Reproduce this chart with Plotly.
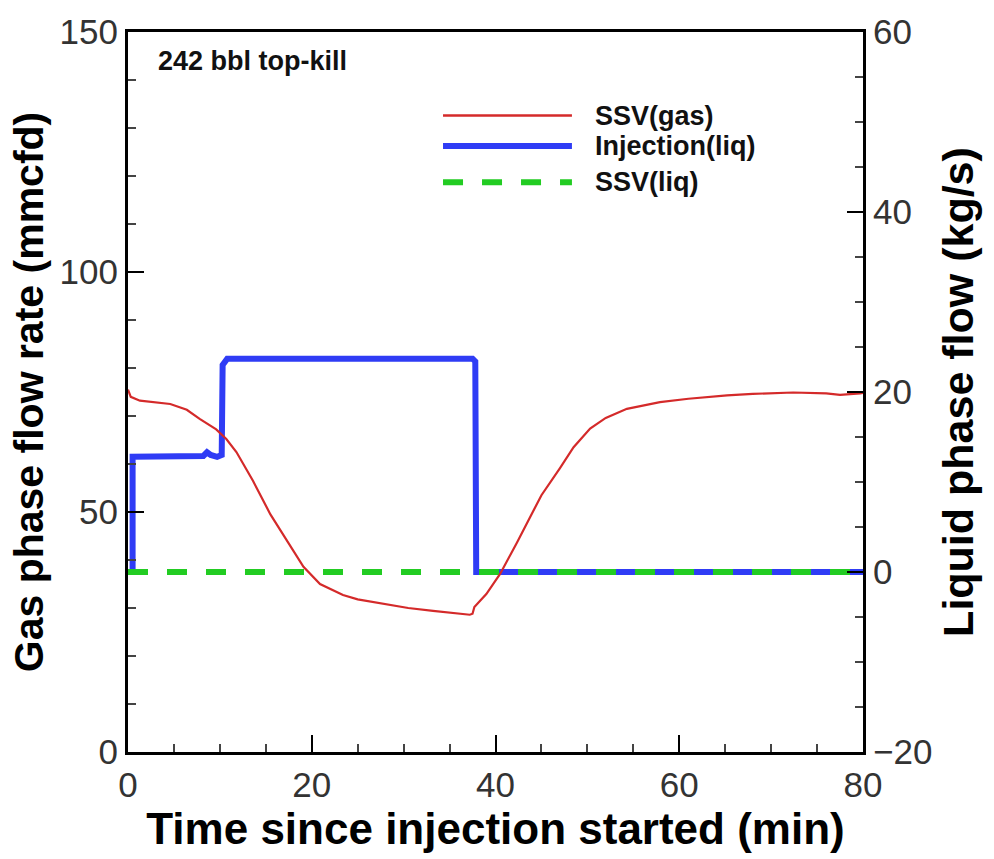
import plotly.graph_objects as go

# ---- data ----
gas_t = [0, 0.3, 1.3, 3, 4.6, 6.4, 7.8, 9.6, 10.7, 11.8, 13.6, 15.5, 17.3, 19.1, 20.9,
         23.4, 25, 27.8, 30.5, 33.2, 35.5, 37.2, 37.5, 37.7, 39.0, 40.5, 42.3, 43.4, 45,
         47, 48.5, 50.3, 52, 54.3, 57.9, 61, 65.2, 68, 72.4, 76, 77.5, 79.7, 80]
gas_v = [75.5, 74, 73.2, 72.8, 72.5, 71.3, 69.4, 67.2, 65.2, 62.5, 56.5, 49.5, 44, 38.6, 35,
         32.7, 31.8, 30.9, 30.0, 29.4, 28.9, 28.6, 28.8, 30.2, 32.9, 37.1, 43.5, 47.5, 53.5,
         59.1, 63.5, 67.4, 69.6, 71.5, 72.9, 73.6, 74.3, 74.6, 74.9, 74.7, 74.4, 74.7, 74.8]

inj_t = [0, 0.5, 0.5, 5, 8.2, 8.6, 9.0, 9.7, 10.2, 10.3, 10.8, 37.5, 37.8, 37.9, 80]
inj_v = [0, 0, 12.8, 12.8, 12.9, 13.3, 13.0, 12.8, 13.0, 23.0, 23.7, 23.7, 23.4, 0, 0]

liq_t = [0, 80]
liq_v = [0, 0]

names = ["SSV(gas)", "Injection(liq)", "SSV(liq)"]
label_text = "242 bbl top-kill"
x_title = "Time since injection started (min)"
y_gas_title = "Gas phase flow rate (mmcfd)"
y_liq_title = "Liquid phase flow (kg/s)"

RED = "#d42a2a"
BLUE = "#2f3cf5"
GREEN = "#22cc22"
DASH = "20px,19px"
FONT = "Liberation Sans"

fig = go.Figure()
fig.add_trace(go.Scatter(x=inj_t, y=inj_v, mode="lines", name=names[1], yaxis="y",
                         line=dict(color=BLUE, width=6), showlegend=False))
fig.add_trace(go.Scatter(x=liq_t, y=liq_v, mode="lines", name=names[2], yaxis="y",
                         line=dict(color=GREEN, width=6, dash=DASH), showlegend=False))
fig.add_trace(go.Scatter(x=gas_t, y=gas_v, mode="lines", name=names[0], yaxis="y2",
                         line=dict(color=RED, width=2.2), showlegend=False))

tickfont = dict(family=FONT, size=35, color="#333333")

fig.update_layout(
    width=994, height=859,
    margin=dict(l=128, r=131, t=28, b=107),
    paper_bgcolor="white", plot_bgcolor="white",
    font=dict(family=FONT),
    xaxis=dict(range=[0, 80], dtick=20, tick0=0, showgrid=False, zeroline=False,
               showline=True, linewidth=3, linecolor="black", mirror=True,
               ticks="inside", ticklen=17, tickwidth=2, tickcolor="black",
               minor=dict(dtick=5, ticks="inside", ticklen=8, tickwidth=1.5, tickcolor="#444"),
               tickfont=tickfont,
               title=dict(text="<b>" + x_title + "</b>",
                          font=dict(family=FONT, size=44, color="black"), standoff=4)),
    yaxis=dict(range=[-20, 60], dtick=20, tick0=0, side="right", showgrid=False,
               zeroline=False, showline=True, linewidth=3, linecolor="black",
               ticks="inside", ticklen=16, tickwidth=2, tickcolor="black",
               minor=dict(dtick=5, ticks="inside", ticklen=8, tickwidth=1.5, tickcolor="#444"),
               tickfont=tickfont,
               title=dict(text="<b>" + y_liq_title + "</b>",
                          font=dict(family=FONT, size=43, color="black"), standoff=12)),
    yaxis2=dict(range=[0, 150], dtick=50, tick0=0, side="left", overlaying="y",
                showgrid=False, zeroline=False, showline=True, linewidth=3, linecolor="black",
                ticks="inside", ticklen=16, tickwidth=2, tickcolor="black",
                minor=dict(dtick=10, ticks="inside", ticklen=8, tickwidth=1.5, tickcolor="#444"),
                tickfont=tickfont,
                title=dict(text="<b>" + y_gas_title + "</b>",
                           font=dict(family=FONT, size=41, color="black"), standoff=4)),
)

# manual legend (long sample lines as in the reference)
leg_rows = [(0.884, RED, 2.5, None), (0.8416, BLUE, 6, None), (0.7914, GREEN, 6, DASH)]
for (yy, col, w, d), nm in zip(leg_rows, names):
    ln = dict(color=col, width=w)
    if d:
        ln["dash"] = d
    fig.add_shape(type="line", xref="paper", yref="paper", x0=0.4286, x1=0.604, y0=yy, y1=yy, line=ln)
    fig.add_annotation(xref="paper", yref="paper", x=0.632, y=yy, text="<b>" + nm + "</b>",
                       showarrow=False, xanchor="left", yanchor="middle",
                       font=dict(family=FONT, size=27, color="#111"))

fig.add_annotation(xref="paper", yref="paper", x=0.038, y=0.96, text="<b>" + label_text + "</b>",
                   showarrow=False, xanchor="left", yanchor="middle",
                   font=dict(family=FONT, size=27, color="#111"))

fig.write_html("out.html")
